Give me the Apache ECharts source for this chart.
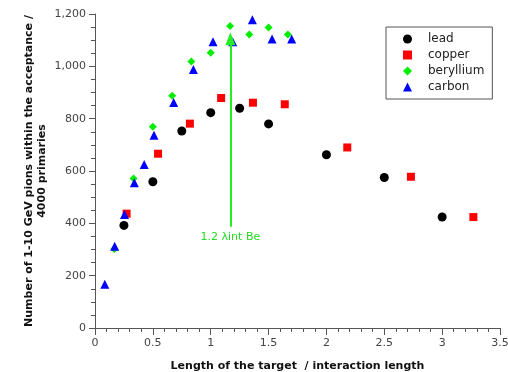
<!DOCTYPE html>
<html>
<head>
<meta charset="utf-8">
<script src="https://cdn.jsdelivr.net/npm/echarts@6/dist/echarts.min.js"></script>
<style>
  html, body { margin: 0; padding: 0; background: #fff; }
  #chart { width: 508px; height: 372px; }
</style>
</head>
<body>
<div id="chart"></div>
<script>
// 各材料数据：靶长度（相互作用长度）与 1-10 GeV pion 数
var leadX = [0.25, 0.5, 0.75, 1.0, 1.25, 1.5, 2.0, 2.5, 3.0];
var leadY = [392, 559, 753, 823, 840, 780, 662, 575, 424];

var copperX = [0.273, 0.545, 0.82, 1.09, 1.365, 1.64, 2.18, 2.73, 3.27];
var copperY = [437, 666, 781, 879, 861, 855, 690, 578, 424];

var berylliumX = [0.167, 0.333, 0.5, 0.667, 0.833, 1.0, 1.167, 1.333, 1.5, 1.667];
var berylliumY = [302, 571, 769, 888, 1018, 1052, 1154, 1122, 1148, 1122];

var carbonX = [0.085, 0.17, 0.255, 0.34, 0.425, 0.51, 0.68, 0.85, 1.02, 1.19, 1.36, 1.53, 1.70];
var carbonY = [167, 312, 434, 555, 625, 737, 862, 988, 1094, 1094, 1178, 1104, 1104];

// 箭头：1.2 λint Be
var arrowX = 1.17;
var arrowFrom = 387;
var arrowTo = 1105;

function pairs(xs, ys) {
  return xs.map(function (x, i) { return [x, ys[i]]; });
}

var myChart = echarts.init(document.getElementById('chart'));
var font = 'DejaVu Sans';

var option = {
  backgroundColor: '#fff',
  animation: false,
  textStyle: { fontFamily: font },
  grid: { left: 95, right: 8, top: 14, bottom: 44, outerBoundsMode: 'none' },
  legend: {
    orient: 'vertical',
    left: 386,
    top: 27,
    padding: [6, 8, 6, 17],
    itemWidth: 9,
    itemHeight: 9,
    itemGap: 4,
    borderColor: '#555',
    borderWidth: 1,
    textStyle: { fontSize: 12, color: '#222', padding: [0, 0, 0, 11] },
    data: ['lead', 'copper', 'beryllium', 'carbon']
  },
  xAxis: {
    type: 'value',
    min: 0,
    max: 3.5,
    interval: 0.5,
    name: 'Length of the target  / interaction length',
    nameLocation: 'middle',
    nameGap: 33,
    nameMoveOverlap: false,
    nameTextStyle: { fontSize: 11, fontWeight: 'bold', color: '#111' },
    axisLine: { lineStyle: { color: '#555' } },
    axisTick: { length: 7, lineStyle: { color: '#555' } },
    minorTick: { show: true, splitNumber: 5, length: 4, lineStyle: { color: '#555' } },
    axisLabel: { fontSize: 11, color: '#444', margin: 10 },
    splitLine: { show: false }
  },
  yAxis: {
    type: 'value',
    min: 0,
    max: 1200,
    interval: 200,
    name: 'Number of 1-10 GeV pions within the acceptance /\n4000 primaries',
    nameLocation: 'middle',
    nameGap: 46,
    nameMoveOverlap: false,
    nameTextStyle: { fontSize: 11, fontWeight: 'bold', color: '#111', lineHeight: 13 },
    axisLine: { show: true, lineStyle: { color: '#555' } },
    axisTick: { show: true, length: 6, lineStyle: { color: '#555' } },
    minorTick: { show: true, splitNumber: 4, length: 4, lineStyle: { color: '#555' } },
    axisLabel: {
      fontSize: 11, color: '#444', margin: 9,
      formatter: function (v) { return v.toLocaleString('en-US'); }
    },
    splitLine: { show: false }
  },
  series: [
    {
      name: 'lead', type: 'scatter', symbol: 'circle', symbolSize: 9,
      itemStyle: { color: '#000', opacity: 1 },
      data: pairs(leadX, leadY)
    },
    {
      name: 'copper', type: 'scatter', symbol: 'rect', symbolSize: 8,
      itemStyle: { color: '#ff0000', opacity: 1 },
      data: pairs(copperX, copperY)
    },
    {
      name: 'beryllium', type: 'scatter', symbol: 'diamond', symbolSize: [8, 8],
      itemStyle: { color: '#00ee00', opacity: 1 },
      data: pairs(berylliumX, berylliumY),
      markLine: {
        silent: true,
        symbol: ['none', 'triangle'],
        symbolSize: [10, 13],
        lineStyle: { color: '#22ee22', width: 2, type: 'solid', opacity: 1 },
        label: {
          show: true, position: 'start', formatter: '1.2 λint Be',
          color: '#22dd22', fontSize: 11, distance: 5
        },
        data: [[
          { coord: [arrowX, arrowFrom] },
          { coord: [arrowX, arrowTo] }
        ]]
      }
    },
    {
      name: 'carbon', type: 'scatter', symbol: 'triangle', symbolSize: 9,
      itemStyle: { color: '#0000ff', opacity: 1 },
      data: pairs(carbonX, carbonY)
    }
  ]
};

myChart.setOption(option);
</script>
</body>
</html>
